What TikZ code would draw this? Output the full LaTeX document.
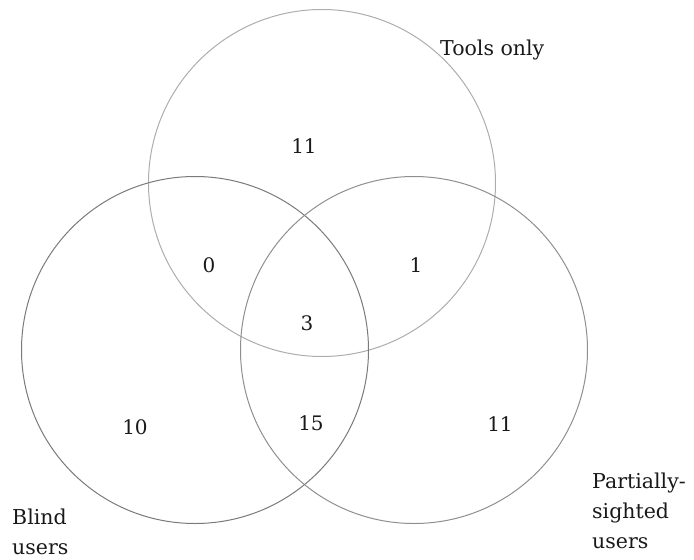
\documentclass[tikz,border=0pt]{standalone}
\usepackage{fontspec}
\setmainfont{DejaVu Serif}
\begin{document}
\begin{tikzpicture}[x=1pt,y=-1pt,
  set/.style={circle, draw, inner sep=0pt, minimum size=347pt, line width=1pt},
  count/.style={font=\fontsize{20}{24}\selectfont, text=black!90, inner sep=0pt},
  caption/.style={font=\fontsize{20.5}{30}\selectfont, text=black!90, inner sep=0pt, align=left}
]
\useasboundingbox (0,0) rectangle (694,560);
% the three sets
\node[set, draw=black!32] (tools) at (322,183) {};
\node[set, draw=black!52] (blind) at (195,350) {};
\node[set, draw=black!44] (partial) at (414,350) {};
% region counts
\node[count] (ntools)   at (304,146) {11};
\node[count] (ntb)      at (209,265) {0};
\node[count] (ntp)      at (416,265) {1};
\node[count] (nall)     at (307,323) {3};
\node[count] (nblind)   at (135,427) {10};
\node[count] (nbp)      at (311,423) {15};
\node[count] (npartial) at (500,424) {11};
% set captions (base anchor sits on the last line)
\node[caption, anchor=base west] (ltools) at (440,55) {Tools only};
\node[caption, anchor=base west] (lblind) at (12,554) {Blind\\users};
\node[caption, anchor=base west] (lpartial) at (592,548) {Partially-\\sighted\\users};
\end{tikzpicture}
\end{document}
